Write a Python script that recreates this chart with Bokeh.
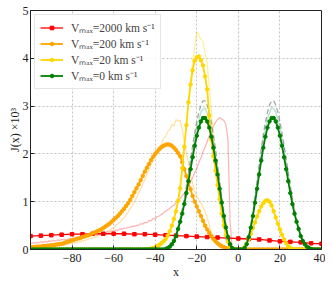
from bokeh.plotting import figure
from bokeh.models import Legend, LegendItem, FixedTicker, CustomJSTickFormatter
from bokeh.embed import file_html
from bokeh.resources import INLINE

# shared x grid (Doppler units)
X = list(range(-100, 41))
X_RED = list(range(-100, 41, 5))

# Vmax = 2000 km/s, model curve (sparse)
RED = [0.28, 0.29, 0.30, 0.31, 0.32, 0.32, 0.33, 0.33, 0.33, 0.33,
       0.32, 0.32, 0.31, 0.30, 0.29, 0.28, 0.27, 0.26, 0.25, 0.24,
       0.23, 0.22, 0.21, 0.19, 0.17, 0.16, 0.15, 0.13, 0.12]

# Vmax = 2000 km/s, simulation (faint)
RED_SIM = [0.12, 0.14, 0.13, 0.15, 0.14, 0.16, 0.15, 0.17, 0.16, 0.18,
           0.17, 0.19, 0.18, 0.20, 0.19, 0.21, 0.20, 0.22, 0.21, 0.23,
           0.22, 0.24, 0.23, 0.26, 0.24, 0.27, 0.26, 0.29, 0.27, 0.30,
           0.29, 0.32, 0.30, 0.33, 0.32, 0.35, 0.34, 0.37, 0.36, 0.39,
           0.38, 0.41, 0.40, 0.43, 0.42, 0.45, 0.44, 0.47, 0.46, 0.49,
           0.48, 0.51, 0.50, 0.54, 0.53, 0.57, 0.56, 0.61, 0.60, 0.65,
           0.64, 0.69, 0.70, 0.74, 0.76, 0.80, 0.83, 0.86, 0.90, 0.93,
           0.98, 1.02, 1.07, 1.12, 1.18, 1.26, 1.33, 1.42, 1.50, 1.61,
           1.70, 1.82, 1.92, 2.05, 2.14, 2.26, 2.38, 2.48, 2.58, 2.66,
           2.72, 2.76, 2.73, 2.70, 2.62, 2.30, 0.60, 0.05,
           0, 0, 0, 0, 0, 0, 0, 0, 0, 0, 0, 0, 0, 0, 0, 0, 0, 0, 0, 0,
           0, 0, 0, 0, 0, 0, 0, 0, 0, 0, 0, 0, 0, 0, 0, 0, 0, 0, 0, 0,
           0, 0, 0]

# Vmax = 200 km/s
ORANGE = [0.05, 0.05, 0.05, 0.06, 0.06, 0.06, 0.07, 0.07, 0.08, 0.08,
          0.09, 0.09, 0.10, 0.11, 0.11, 0.12, 0.13, 0.15, 0.16, 0.18,
          0.19, 0.20, 0.22, 0.23, 0.24, 0.26, 0.27, 0.29, 0.30, 0.32,
          0.34, 0.36, 0.38, 0.40, 0.42, 0.45, 0.48, 0.51, 0.54, 0.58,
          0.62, 0.66, 0.70, 0.75, 0.80, 0.85, 0.91, 0.97, 1.04, 1.12,
          1.20, 1.28, 1.36, 1.45, 1.54, 1.63, 1.71, 1.79, 1.87, 1.94,
          2.00, 2.05, 2.10, 2.14, 2.17, 2.19, 2.20, 2.19, 2.17, 2.13,
          2.08, 2.02, 1.95, 1.83, 1.68, 1.54, 1.40, 1.26, 1.12, 1.00,
          0.90, 0.80, 0.70, 0.60, 0.50, 0.42, 0.35, 0.28, 0.22, 0.17,
          0.13, 0.10, 0.07, 0.05, 0.03, 0.02, 0.01,
          0, 0, 0, 0, 0, 0, 0, 0, 0, 0, 0, 0, 0, 0, 0, 0, 0, 0, 0, 0,
          0, 0, 0, 0, 0, 0, 0, 0, 0, 0, 0, 0, 0, 0, 0, 0, 0, 0, 0, 0,
          0, 0, 0, 0]

ORANGE_SIM = [0.03, 0.02, 0.04, 0.03, 0.05, 0.04, 0.05, 0.06, 0.05, 0.07,
              0.06, 0.08, 0.07, 0.09, 0.08, 0.10, 0.09, 0.11, 0.11, 0.13,
              0.12, 0.14, 0.14, 0.16, 0.16, 0.18, 0.19, 0.20, 0.22, 0.23,
              0.25, 0.26, 0.28, 0.29, 0.32, 0.33, 0.36, 0.38, 0.40, 0.44,
              0.45, 0.50, 0.54, 0.57, 0.63, 0.66, 0.73, 0.78, 0.86, 0.92,
              1.01, 1.08, 1.18, 1.26, 1.37, 1.46, 1.58, 1.66, 1.78, 1.86,
              1.97, 2.03, 2.15, 2.20, 2.33, 2.36, 2.47, 2.50, 2.62, 2.58,
              2.72, 2.68, 2.70, 2.52, 2.25, 2.02, 1.80, 1.56, 1.38, 1.20,
              1.12, 1.04, 0.97, 0.88, 0.80, 0.66, 0.52, 0.36, 0.24, 0.15,
              0.09, 0.05, 0.03, 0.01,
              0, 0, 0, 0, 0, 0, 0, 0, 0, 0, 0, 0, 0, 0, 0, 0, 0, 0, 0, 0,
              0, 0, 0, 0, 0, 0, 0, 0, 0, 0, 0, 0, 0, 0, 0, 0, 0, 0, 0, 0,
              0, 0, 0, 0, 0, 0, 0]

# Vmax = 20 km/s
YELLOW = [0, 0, 0, 0, 0, 0, 0, 0, 0, 0, 0, 0, 0, 0, 0, 0, 0, 0, 0, 0,
          0, 0, 0, 0, 0, 0, 0, 0, 0, 0, 0, 0, 0, 0, 0, 0, 0, 0, 0, 0,
          0, 0, 0, 0, 0, 0, 0, 0, 0, 0, 0, 0, 0, 0, 0, 0, 0,
          0.01, 0.02, 0.03, 0.05, 0.07, 0.10, 0.13, 0.17, 0.22, 0.29,
          0.38, 0.50, 0.64, 0.80, 1.02, 1.28, 1.70, 2.15, 2.60, 3.08,
          3.45, 3.75, 3.95, 4.02, 4.04, 3.96, 3.85, 3.62, 3.35, 2.80,
          2.30, 1.95, 1.65, 1.35, 1.05, 0.75, 0.50, 0.30, 0.16, 0.07,
          0.02, 0.0,
          0, 0, 0,
          0.01, 0.05, 0.12, 0.22, 0.33, 0.45, 0.57, 0.69, 0.80, 0.90,
          0.97, 1.02, 1.03, 1.00, 0.92, 0.80, 0.67, 0.54, 0.42, 0.31,
          0.21, 0.13, 0.07, 0.03, 0.01,
          0, 0, 0, 0, 0, 0, 0, 0, 0, 0, 0, 0, 0, 0]

YELLOW_SIM = [0, 0, 0, 0, 0, 0, 0, 0, 0, 0, 0, 0, 0, 0, 0, 0, 0, 0, 0, 0,
              0, 0, 0, 0, 0, 0, 0, 0, 0, 0, 0, 0, 0, 0, 0, 0, 0, 0, 0, 0,
              0, 0, 0, 0, 0, 0, 0, 0, 0, 0, 0, 0, 0, 0, 0, 0, 0,
              0.01, 0.03, 0.02, 0.06, 0.07, 0.12, 0.12, 0.19, 0.22, 0.31,
              0.37, 0.52, 0.62, 0.85, 1.00, 1.34, 1.66, 2.20, 2.58, 3.15,
              3.48, 3.90, 4.25, 4.55, 4.48, 4.40, 4.35, 4.10, 3.90, 3.40,
              2.90, 2.30, 1.80, 1.42, 1.05, 0.80, 0.52, 0.34, 0.18, 0.08,
              0.02, 0.0,
              0, 0, 0,
              0.01, 0.06, 0.12, 0.23, 0.32, 0.47, 0.55, 0.71, 0.79, 0.92,
              0.96, 1.04, 1.01, 1.02, 0.90, 0.82, 0.65, 0.56, 0.40, 0.32,
              0.20, 0.14, 0.06, 0.04, 0.01,
              0, 0, 0, 0, 0, 0, 0, 0, 0, 0, 0, 0, 0, 0]

# Vmax = 0 km/s
GREEN = [0, 0, 0, 0, 0, 0, 0, 0, 0, 0, 0, 0, 0, 0, 0, 0, 0, 0, 0, 0,
         0, 0, 0, 0, 0, 0, 0, 0, 0, 0, 0, 0, 0, 0, 0, 0, 0, 0, 0, 0,
         0, 0, 0, 0, 0, 0, 0, 0, 0, 0, 0, 0, 0, 0, 0, 0, 0, 0, 0, 0,
         0, 0, 0, 0, 0,
         0.01, 0.03, 0.06, 0.11, 0.18, 0.28, 0.43, 0.58, 0.75, 0.95,
         1.18, 1.43, 1.68, 1.93, 2.17, 2.38, 2.55, 2.68, 2.75, 2.75,
         2.68, 2.55, 2.36, 2.13, 1.86, 1.57, 1.27, 0.98, 0.70, 0.46,
         0.26, 0.11, 0.03,
         0, 0, 0, 0, 0,
         0.03, 0.11, 0.26, 0.46, 0.70, 0.98, 1.27, 1.57, 1.86, 2.13,
         2.36, 2.55, 2.68, 2.75, 2.75, 2.68, 2.55, 2.38, 2.17, 1.93,
         1.68, 1.43, 1.18, 0.95, 0.75, 0.58, 0.43, 0.28, 0.18, 0.11,
         0.06, 0.03, 0.01,
         0, 0, 0, 0, 0]

GREEN_SIM = [0, 0, 0, 0, 0, 0, 0, 0, 0, 0, 0, 0, 0, 0, 0, 0, 0, 0, 0, 0,
             0, 0, 0, 0, 0, 0, 0, 0, 0, 0, 0, 0, 0, 0, 0, 0, 0, 0, 0, 0,
             0, 0, 0, 0, 0, 0, 0, 0, 0, 0, 0, 0, 0, 0, 0, 0, 0, 0, 0, 0,
             0, 0, 0, 0, 0,
             0.01, 0.04, 0.06, 0.12, 0.19, 0.31, 0.45, 0.63, 0.80, 1.03,
             1.26, 1.55, 1.79, 2.08, 2.31, 2.56, 2.71, 2.88, 2.93, 2.96,
             2.85, 2.74, 2.50, 2.30, 1.98, 1.70, 1.35, 1.06, 0.74, 0.50,
             0.27, 0.12, 0.03,
             0, 0, 0, 0, 0,
             0.03, 0.13, 0.27, 0.51, 0.74, 1.07, 1.35, 1.70, 1.97, 2.31,
             2.50, 2.76, 2.85, 2.98, 2.94, 2.88, 2.72, 2.56, 2.31, 2.09,
             1.79, 1.55, 1.25, 1.04, 0.79, 0.63, 0.45, 0.31, 0.19, 0.12,
             0.06, 0.04, 0.01,
             0, 0, 0, 0, 0]

# analytic static solution (dashed)
ANALYTIC = [0, 0, 0, 0, 0, 0, 0, 0, 0, 0, 0, 0, 0, 0, 0, 0, 0, 0, 0, 0,
            0, 0, 0, 0, 0, 0, 0, 0, 0, 0, 0, 0, 0, 0, 0, 0, 0, 0, 0, 0,
            0, 0, 0, 0, 0, 0, 0, 0, 0, 0, 0, 0, 0, 0, 0, 0, 0, 0, 0, 0,
            0, 0, 0, 0, 0,
            0.01, 0.03, 0.07, 0.12, 0.20, 0.32, 0.48, 0.65, 0.85, 1.07,
            1.33, 1.61, 1.89, 2.17, 2.44, 2.68, 2.87, 3.02, 3.11, 3.11,
            3.02, 2.87, 2.66, 2.40, 2.10, 1.77, 1.43, 1.10, 0.79, 0.52,
            0.29, 0.12, 0.03,
            0, 0, 0, 0, 0,
            0.03, 0.12, 0.29, 0.52, 0.79, 1.10, 1.43, 1.77, 2.10, 2.40,
            2.66, 2.87, 3.02, 3.11, 3.11, 3.02, 2.87, 2.68, 2.44, 2.17,
            1.89, 1.61, 1.33, 1.07, 0.85, 0.65, 0.48, 0.32, 0.20, 0.12,
            0.07, 0.03, 0.01,
            0, 0, 0, 0, 0]

X_TICKS = [-80, -60, -40, -20, 0, 20, 40]
Y_TICKS = [0, 1, 2, 3, 4, 5]
LABELS = ["Vₘₐₓ=2000 km s⁻¹", "Vₘₐₓ=200 km s⁻¹", "Vₘₐₓ=20 km s⁻¹", "Vₘₐₓ=0 km s⁻¹"]

FONT = "Liberation Serif"

p = figure(frame_width=291, frame_height=239, x_range=(-100, 40), y_range=(0, 5),
           output_backend="svg", toolbar_location=None,
           min_border_left=30, min_border_top=10, min_border_right=4, min_border_bottom=10)
p.background_fill_color = "white"
p.border_fill_color = "white"
p.outline_line_color = "#222222"
p.outline_line_width = 1

# faint simulation curves
p.line(X, RED_SIM, line_color="red", line_alpha=0.3, line_width=1.2)
p.line(X, ORANGE_SIM, line_color="orange", line_alpha=0.35, line_width=1.2)
p.line(X, YELLOW_SIM, line_color="gold", line_alpha=0.4, line_width=1.2)
p.line(X, GREEN_SIM, line_color="#3cb371", line_alpha=0.35, line_width=1.5)
p.line(X, ANALYTIC, line_color="gray", line_alpha=0.7, line_width=1.3, line_dash="5 3")

items = []
r1 = p.line(X_RED, RED, line_color="red", line_width=1.3)
r1m = p.scatter(X_RED, RED, marker="square", size=3.5, color="red")
items.append(LegendItem(label=LABELS[0], renderers=[r1, r1m]))
r2 = p.line(X, ORANGE, line_color="orange", line_width=1.8)
r2m = p.scatter(X, ORANGE, marker="circle", size=3.5, color="orange")
items.append(LegendItem(label=LABELS[1], renderers=[r2, r2m]))
r3 = p.line(X, YELLOW, line_color="gold", line_width=1.8)
r3m = p.scatter(X, YELLOW, marker="circle", size=3.5, color="gold")
items.append(LegendItem(label=LABELS[2], renderers=[r3, r3m]))
r4 = p.line(X, GREEN, line_color="green", line_width=1.8)
r4m = p.scatter(X, GREEN, marker="circle", size=3.5, color="green")
items.append(LegendItem(label=LABELS[3], renderers=[r4, r4m]))

legend = Legend(items=items, location="top_left", margin=4, padding=5, spacing=1,
                glyph_width=23, glyph_height=9, label_height=14, label_standoff=8,
                label_text_font=FONT, label_text_font_size="11.5px",
                border_line_color="#cccccc", background_fill_alpha=0.85)
p.add_layout(legend, "center")

p.xaxis.ticker = FixedTicker(ticks=X_TICKS)
p.yaxis.ticker = FixedTicker(ticks=Y_TICKS)
p.xaxis.formatter = CustomJSTickFormatter(code="return tick < 0 ? '\u2212' + (-tick) : String(tick);")
for ax in (p.xaxis, p.yaxis):
    ax.major_tick_in = 4
    ax.major_tick_out = 0
    ax.minor_tick_line_color = None
    ax.axis_line_color = "#222222"
    ax.major_tick_line_color = "#222222"
    ax.major_label_text_font = FONT
    ax.major_label_text_font_size = "12px"
    ax.major_label_text_color = "#222222"
    ax.axis_label_text_font = FONT
    ax.axis_label_text_font_size = "12px"
    ax.axis_label_text_font_style = "normal"
    ax.axis_label_text_color = "#222222"
p.xaxis.major_label_standoff = 4
p.xaxis.axis_label_standoff = 0
p.yaxis.major_label_standoff = 2
p.yaxis.axis_label_standoff = -2
p.xaxis.axis_label = "x"
p.yaxis.axis_label = "J(x) ×10³"

for g in (p.xgrid, p.ygrid):
    g.grid_line_color = "#b5b5b5"
    g.grid_line_dash = "2 2"
    g.grid_line_width = 0.8

open("out.html", "w").write(file_html(p, INLINE))
